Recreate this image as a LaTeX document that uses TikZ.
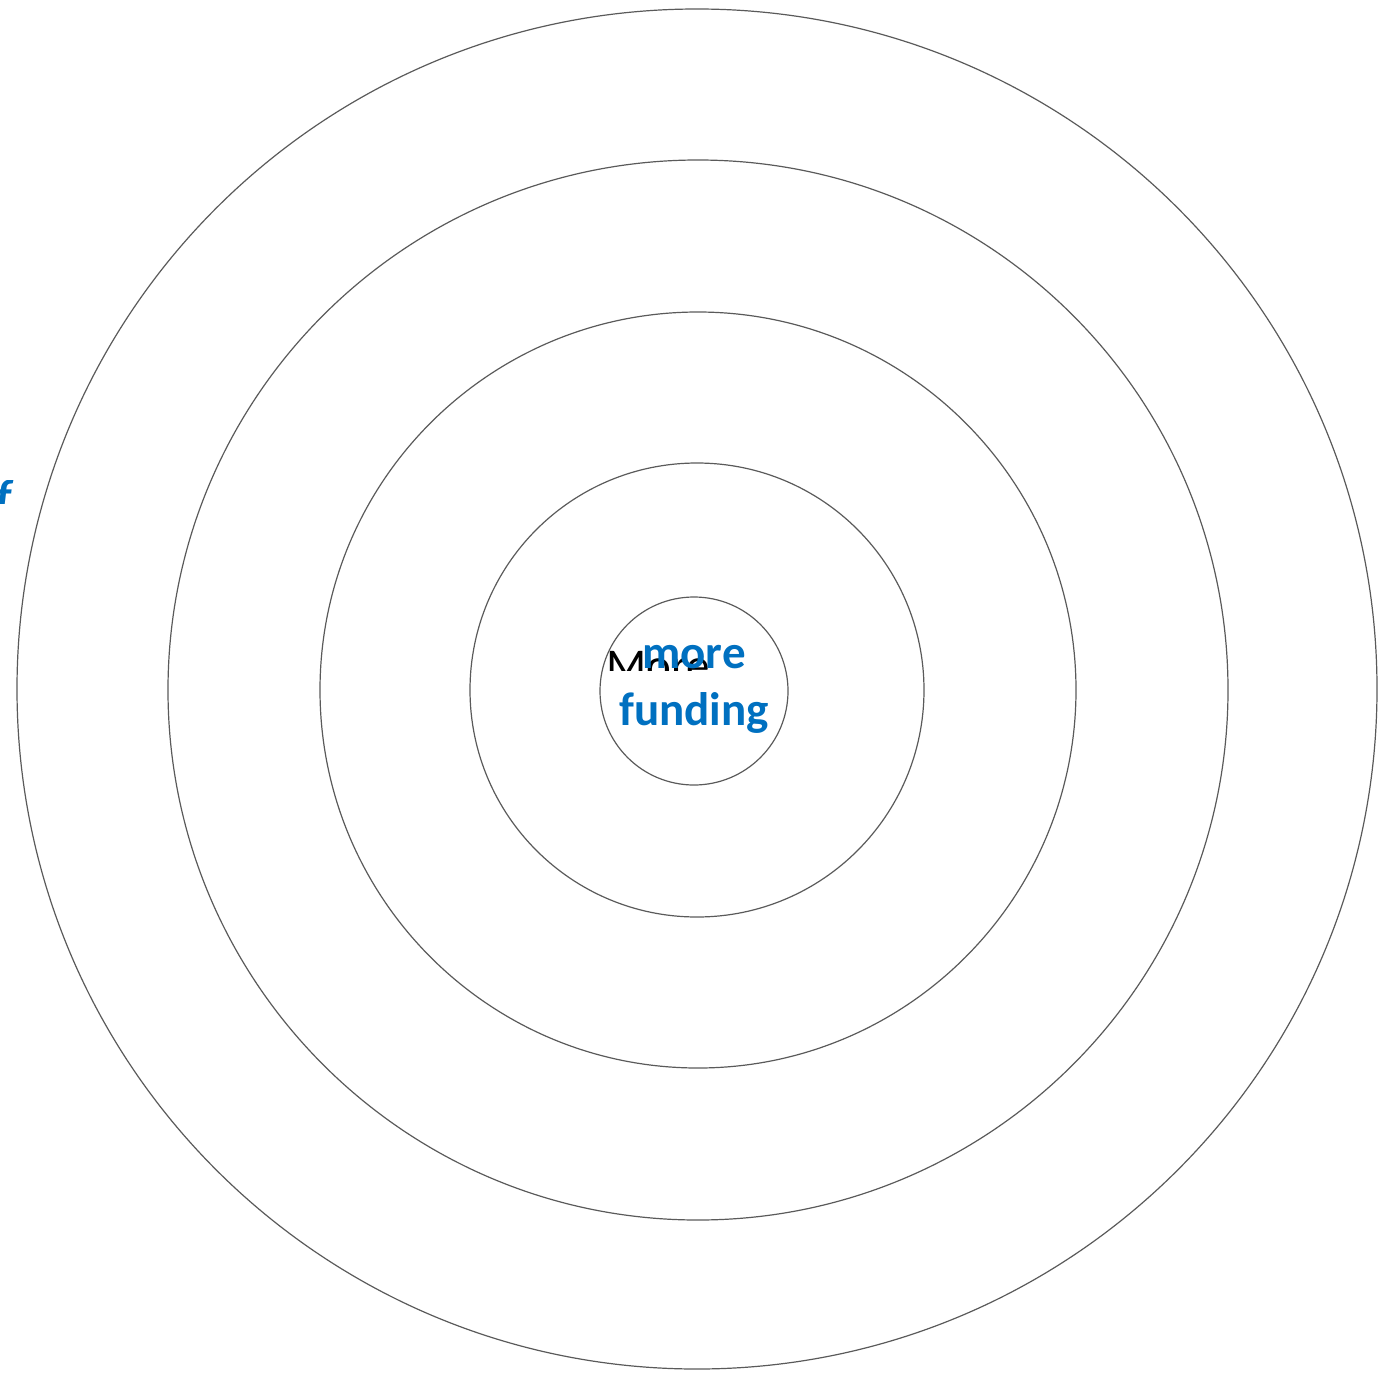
\documentclass[tikz,border=0pt]{standalone}
\usepackage{fontspec}
\setmainfont{Carlito}
\definecolor{ringgray}{HTML}{5A5A5A}
\definecolor{txtblue}{HTML}{0070C0}
\begin{document}
\begin{tikzpicture}[x=1pt,y=-1pt,
  ring/.style={draw=ringgray,line width=1.2pt},
  bluetext/.style={text=txtblue,font=\fontsize{47}{57}\selectfont\bfseries,align=center,inner sep=0pt}]
\useasboundingbox (0,0) rectangle (1391,1373);
\draw[ring] (697,689) circle[radius=680];
\draw[ring] (698,690) circle[radius=530];
\draw[ring] (698,690) circle[radius=378];
\draw[ring] (697,690) circle[radius=227];
\draw[ring] (694,691) circle[radius=94];
\begin{scope}
\clip (560,600) rectangle (760,670);
\node[anchor=base west,inner sep=0pt,font=\fontsize{47}{57}\selectfont] (blk) at (606,681) {More};
\end{scope}
\node[bluetext,anchor=base] (more) at (694,668) {more};
\node[bluetext,anchor=base] (fund) at (694,725) {funding};
\begin{scope}
\clip (0,480) rectangle (20,503);
\node[text=txtblue,font=\fontsize{47}{57}\selectfont\bfseries\itshape,anchor=base east,inner sep=0pt] (f) at (12,512) {f};
\end{scope}
\end{tikzpicture}
\end{document}
